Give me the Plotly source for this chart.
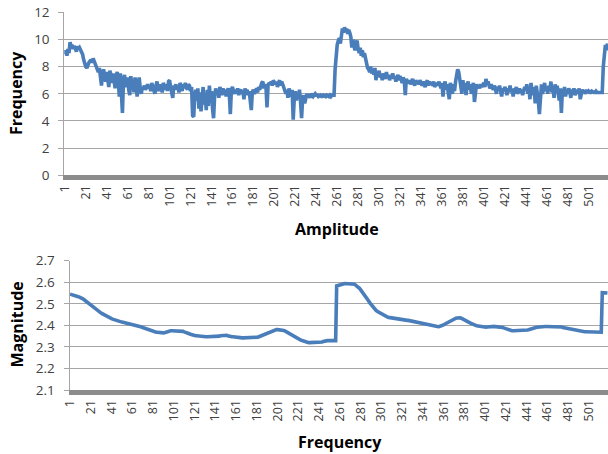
import plotly.graph_objects as go

# ---- data ----
top_values = [
    8.9, 9.2, 8.8, 9.3, 9.0, 9.8, 9.5, 9.6, 9.3, 9.5, 9.4, 9.1, 9.5, 9.3, 9.4, 9.2, 9.0, 8.9, 8.5, 8.2,
    8.0, 7.9, 8.2, 8.3, 8.4, 8.5, 8.3, 8.6, 8.4, 8.1, 8.0, 7.8, 7.6, 7.9, 7.2, 6.6, 7.5, 7.8, 7.3, 6.9,
    7.6, 7.2, 6.5, 7.7, 7.4, 6.8, 7.5, 7.0, 6.4, 7.3, 7.6, 7.1, 5.8, 7.5, 6.2, 4.6, 7.0, 7.4, 6.5, 6.9,
    7.2, 6.3, 5.9, 7.3, 6.6, 7.0, 6.1, 7.2, 6.8, 5.8, 6.6, 7.2, 6.4, 6.0, 6.5, 6.4, 6.6, 6.3, 6.5, 6.7,
    6.4, 6.6, 6.2, 6.8, 6.5, 6.3, 6.0, 6.6, 6.9, 6.4, 6.2, 6.7, 6.5, 6.1, 6.8, 6.6, 6.3, 6.7, 6.2, 6.9,
    7.0, 6.5, 6.2, 5.7, 6.6, 6.4, 6.7, 6.3, 6.5, 6.1, 6.8, 6.6, 6.2, 6.7, 6.4, 6.8, 6.5, 6.3, 6.7, 6.6,
    6.2, 6.5, 4.4, 4.3, 5.8, 6.3, 5.5, 6.4, 4.9, 6.1, 4.7, 5.9, 6.5, 5.2, 6.0, 4.8, 6.3, 5.1, 6.6, 5.6,
    6.2, 4.9, 4.2, 5.8, 6.4, 6.0, 6.3, 5.7, 6.5, 6.2, 5.9, 6.4, 6.1, 6.3, 5.8, 6.2, 6.4, 6.0, 4.5, 6.3,
    6.5, 6.2, 6.0, 6.3, 6.1, 6.4, 5.9, 6.2, 6.3, 6.0, 6.2, 5.6, 6.4, 6.1, 6.3, 5.9, 6.2, 5.5, 4.8, 6.1,
    6.3, 6.0, 6.2, 6.4, 6.1, 6.5, 6.3, 6.6, 6.8, 6.9, 6.4, 6.7, 6.5, 5.0, 6.6, 6.8, 6.7, 6.9, 6.6, 7.0,
    6.8, 6.7, 6.9, 6.5, 6.8, 7.0, 6.6, 6.9, 6.7, 6.4, 6.2, 6.0, 6.3, 5.7, 6.4, 6.1, 5.8, 6.3, 4.1, 5.6,
    6.2, 5.5, 6.0, 5.8, 6.3, 5.4, 4.2, 5.6, 5.9, 5.3, 5.7, 6.0, 5.8, 5.9, 5.7, 6.0, 5.9, 5.8, 5.9, 6.0,
    5.9, 5.9, 5.8, 5.9, 5.9, 5.8, 5.8, 5.9, 5.8, 5.8, 5.9, 5.8, 5.8, 5.9, 5.8, 5.9, 5.9, 5.9,
    7.8, 8.9,
    9.6, 9.9, 10.1, 9.7, 10.4, 10.8, 10.5, 10.9, 10.6, 10.8, 10.4, 10.7, 10.5, 10.2, 9.4, 10.0, 9.5, 9.2, 9.8, 9.9,
    9.3, 9.0, 9.4, 8.8, 9.2, 8.7, 9.0, 8.6, 8.3, 7.9, 7.8, 7.6, 8.0, 7.5, 7.8, 7.4, 7.9, 7.0, 7.6, 7.4,
    7.7, 7.2, 7.4, 7.0, 7.5, 7.3, 7.1, 7.6, 7.2, 7.4, 7.0, 7.3, 7.2, 7.5, 7.1, 7.3, 6.9, 7.2, 7.4, 7.0,
    7.3, 7.1, 6.8, 7.2, 7.0, 5.9, 7.1, 6.9, 6.8, 7.0, 6.7, 6.9, 7.1, 6.8, 6.6, 7.0, 6.8, 6.9, 6.7, 7.0,
    6.8, 6.6, 6.9, 6.7, 6.5, 6.8, 7.0, 6.6, 6.9, 6.7, 6.8, 6.6, 6.9, 6.5, 6.7, 6.8, 6.6, 6.9, 6.7, 6.4,
    6.8, 5.8, 6.6, 6.9, 6.3, 6.7, 6.1, 5.6, 6.8, 6.5, 6.0, 6.7, 6.2, 6.9, 7.4, 7.8, 7.6, 7.1, 6.4, 6.0,
    7.0, 6.2, 6.8, 5.9, 6.6, 6.9, 6.3, 6.7, 6.0, 6.5, 6.8, 5.4, 6.4, 6.7, 6.5, 6.6, 6.4, 6.7, 6.5, 6.6,
    6.8, 6.5, 7.1, 6.7, 6.9, 6.6, 6.4, 6.7, 6.5, 6.3, 6.6, 6.4, 6.0, 6.5, 6.3, 6.6, 6.2, 5.8, 6.4, 6.2,
    6.5, 6.3, 5.9, 6.4, 6.2, 6.6, 6.1, 6.3, 5.8, 6.4, 6.2, 6.5, 6.0, 6.3, 6.4, 6.1, 6.3, 5.9, 6.2, 6.5,
    6.3, 6.7, 6.0, 6.4, 5.6, 6.8, 6.2, 5.9, 6.5, 5.3, 6.6, 6.1, 5.5, 4.5, 6.4, 6.7, 6.0, 6.3, 6.8, 6.2,
    6.5, 6.0, 6.6, 6.3, 6.9, 6.1, 6.4, 5.7, 6.7, 6.2, 6.6, 6.0, 5.5, 6.4, 4.6, 6.3, 6.1, 6.5, 5.8, 6.3,
    6.0, 6.4, 6.2, 5.7, 6.3, 6.1, 6.4, 5.9, 6.2, 6.3, 6.0, 6.4, 5.6, 6.2, 6.3, 6.1, 6.2, 6.0, 6.3, 6.1,
    6.2, 6.1, 6.1, 6.2, 6.1, 6.1, 6.1, 6.2, 6.1, 6.1, 6.1, 6.1, 6.1, 6.1,
    8.0, 9.3, 9.6, 9.2, 9.7,
]

bottom_values = [
    2.545, 2.544, 2.543, 2.542, 2.540, 2.538, 2.536, 2.535, 2.533, 2.531, 2.530, 2.527, 2.524, 2.521, 2.517, 2.514, 2.510, 2.506, 2.502, 2.498,
    2.494, 2.490, 2.486, 2.482, 2.478, 2.474, 2.470, 2.466, 2.463, 2.460, 2.457, 2.454, 2.451, 2.448, 2.446, 2.443, 2.440, 2.438, 2.435, 2.433,
    2.431, 2.429, 2.427, 2.425, 2.423, 2.421, 2.420, 2.418, 2.417, 2.416, 2.415, 2.414, 2.413, 2.412, 2.411, 2.410, 2.409, 2.408, 2.407, 2.406,
    2.405, 2.404, 2.403, 2.402, 2.401, 2.400, 2.398, 2.396, 2.394, 2.392, 2.390, 2.388, 2.386, 2.384, 2.382, 2.380, 2.378, 2.376, 2.374, 2.372,
    2.371, 2.370, 2.369, 2.368, 2.368, 2.367, 2.366, 2.366, 2.365, 2.365, 2.365, 2.366, 2.368, 2.370, 2.372, 2.373, 2.374, 2.375, 2.375, 2.375,
    2.375, 2.375, 2.375, 2.375, 2.375, 2.375, 2.375, 2.374, 2.373, 2.372, 2.370, 2.369, 2.367, 2.365, 2.363, 2.361, 2.359, 2.357, 2.355, 2.354,
    2.353, 2.352, 2.352, 2.351, 2.350, 2.349, 2.349, 2.348, 2.348, 2.347, 2.347, 2.347, 2.347, 2.347, 2.347, 2.347, 2.347, 2.347, 2.347, 2.347,
    2.347, 2.347, 2.348, 2.349, 2.350, 2.352, 2.353, 2.354, 2.355, 2.355, 2.355, 2.354, 2.352, 2.350, 2.349, 2.348, 2.347, 2.347, 2.346, 2.345,
    2.344, 2.344, 2.343, 2.343, 2.342, 2.342, 2.342, 2.342, 2.342, 2.342, 2.342, 2.342, 2.342, 2.342, 2.342, 2.342, 2.342, 2.342, 2.342, 2.342,
    2.343, 2.345, 2.347, 2.349, 2.352, 2.354, 2.356, 2.358, 2.361, 2.363, 2.365, 2.367, 2.369, 2.371, 2.373, 2.375, 2.377, 2.378, 2.379, 2.380,
    2.380, 2.380, 2.380, 2.379, 2.379, 2.378, 2.376, 2.374, 2.371, 2.368, 2.365, 2.362, 2.360, 2.357, 2.354, 2.351, 2.348, 2.345, 2.342, 2.339,
    2.337, 2.335, 2.333, 2.331, 2.329, 2.327, 2.325, 2.323, 2.322, 2.321, 2.320, 2.320, 2.320, 2.320, 2.320, 2.320, 2.320, 2.320, 2.320, 2.320,
    2.320, 2.320, 2.321, 2.323, 2.325, 2.327, 2.328, 2.329, 2.329, 2.329, 2.329, 2.329, 2.329, 2.329, 2.329, 2.329, 2.329,
    2.583, 2.585, 2.587,
    2.589, 2.590, 2.591, 2.592, 2.593, 2.594, 2.594, 2.595, 2.595, 2.595, 2.595, 2.595, 2.595, 2.593, 2.591, 2.588, 2.585, 2.581, 2.577, 2.572,
    2.566, 2.560, 2.554, 2.548, 2.542, 2.536, 2.528, 2.520, 2.512, 2.504, 2.497, 2.490, 2.484, 2.478, 2.473, 2.469, 2.465, 2.462, 2.459, 2.456,
    2.453, 2.450, 2.447, 2.444, 2.440, 2.439, 2.438, 2.437, 2.436, 2.435, 2.434, 2.434, 2.433, 2.433, 2.433, 2.432, 2.431, 2.430, 2.429, 2.428,
    2.427, 2.426, 2.426, 2.425, 2.424, 2.423, 2.423, 2.422, 2.421, 2.420, 2.420, 2.419, 2.418, 2.417, 2.416, 2.415, 2.414, 2.412, 2.411, 2.410,
    2.409, 2.408, 2.406, 2.405, 2.403, 2.402, 2.400, 2.399, 2.398, 2.397, 2.396, 2.395, 2.394, 2.394, 2.394, 2.394, 2.395, 2.396, 2.398, 2.400,
    2.402, 2.405, 2.408, 2.411, 2.414, 2.417, 2.420, 2.422, 2.425, 2.427, 2.429, 2.431, 2.433, 2.434, 2.435, 2.436, 2.435, 2.433, 2.431, 2.429,
    2.427, 2.425, 2.422, 2.419, 2.416, 2.413, 2.410, 2.407, 2.405, 2.403, 2.402, 2.400, 2.398, 2.397, 2.395, 2.394, 2.393, 2.392, 2.391, 2.390,
    2.390, 2.391, 2.392, 2.393, 2.394, 2.395, 2.395, 2.395, 2.395, 2.395, 2.394, 2.394, 2.393, 2.393, 2.392, 2.392, 2.392, 2.390, 2.388, 2.386,
    2.384, 2.382, 2.380, 2.378, 2.377, 2.376, 2.375, 2.375, 2.375, 2.375, 2.375, 2.375, 2.375, 2.375, 2.375, 2.375, 2.375, 2.375, 2.375, 2.375,
    2.376, 2.378, 2.380, 2.382, 2.384, 2.386, 2.387, 2.388, 2.389, 2.390, 2.391, 2.392, 2.393, 2.394, 2.395, 2.395, 2.395, 2.395, 2.395, 2.395,
    2.395, 2.395, 2.395, 2.395, 2.395, 2.395, 2.395, 2.394, 2.394, 2.394, 2.393, 2.393, 2.393, 2.392, 2.392, 2.390, 2.389, 2.388, 2.386, 2.385,
    2.384, 2.383, 2.382, 2.381, 2.380, 2.379, 2.377, 2.376, 2.375, 2.374, 2.373, 2.372, 2.371, 2.370, 2.370, 2.370, 2.370, 2.370, 2.370, 2.370,
    2.370, 2.370, 2.370, 2.370, 2.370, 2.370, 2.370, 2.370, 2.370, 2.370, 2.369, 2.369, 2.368,
    2.552, 2.552, 2.551, 2.551, 2.550, 2.550,
]

top_categories = list(range(1, len(top_values) + 1))
bottom_categories = list(range(1, len(bottom_values) + 1))
tick_positions = list(range(1, 502, 20))
tick_labels = [str(v) for v in tick_positions]

top_y_ticks = [0, 2, 4, 6, 8, 10, 12]
bottom_y_ticks = [2.1, 2.2, 2.3, 2.4, 2.5, 2.6, 2.7]

# ---- figure ----
W, H = 608, 454
LINE = "#4a7ebb"
GRID = "#a6a6a6"
BAR = "#8c8c8c"
TXT = "#404040"
FONT = "Open Sans"

fig = go.Figure()
fig.add_trace(go.Scatter(x=top_categories, y=top_values, mode="lines",
                         line=dict(color=LINE, width=3.6), xaxis="x", yaxis="y",
                         showlegend=False, hoverinfo="skip"))
fig.add_trace(go.Scatter(x=bottom_categories, y=bottom_values, mode="lines",
                         line=dict(color=LINE, width=3.6), xaxis="x2", yaxis="y2",
                         showlegend=False, hoverinfo="skip"))

def px_y(y0, y1):
    return [1 - y1 / H, 1 - y0 / H]

xcommon = dict(range=[0.5, 519.5], tickmode="array", tickvals=tick_positions,
               ticktext=tick_labels, tickangle=-90, showgrid=False, zeroline=False,
               showline=True, linecolor=BAR, linewidth=5, ticks="", automargin=False,
               tickfont=dict(family=FONT, size=12.5, color=TXT))
ycommon = dict(showgrid=True, gridcolor=GRID, gridwidth=1, zeroline=False,
               showline=True, linecolor=GRID, linewidth=1, ticks="outside",
               ticklen=5, tickcolor=GRID, ticklabelstandoff=6, automargin=False,
               tickfont=dict(family=FONT, size=13.5, color=TXT))

fig.update_layout(
    template="none",
    width=W, height=H,
    margin=dict(l=0, r=0, t=0, b=0, pad=0),
    paper_bgcolor="white", plot_bgcolor="white",
    xaxis=dict(domain=[64.3 / W, 1], anchor="y", **xcommon),
    yaxis=dict(domain=px_y(12.3, 175.3), anchor="x", range=[0, 12],
               tickmode="array", tickvals=top_y_ticks, **ycommon),
    xaxis2=dict(domain=[69.5 / W, 1], anchor="y2", **xcommon),
    yaxis2=dict(domain=px_y(260.7, 390), anchor="x2", range=[2.1, 2.7],
                tickmode="array", tickvals=bottom_y_ticks,
                ticktext=[f"{v:.1f}" for v in bottom_y_ticks], **ycommon),
)

title_font = dict(family=FONT, size=16, color="black")
for text, x, y, ang in [("Frequency", 15.5, 93.5, -90),
                        ("Amplitude", 337, 229, 0),
                        ("Magnitude", 16.5, 325, -90),
                        ("Frequency", 340, 442, 0)]:
    fig.add_annotation(text=f"<b>{text}</b>", x=x / W, y=1 - y / H,
                       xref="paper", yref="paper", showarrow=False,
                       xanchor="center", yanchor="middle", textangle=ang,
                       font=title_font)

fig.write_html(
    "out.html",
    config={"displayModeBar": False},
    post_script="document.body.style.margin='0';document.body.style.overflow='hidden';",
)
